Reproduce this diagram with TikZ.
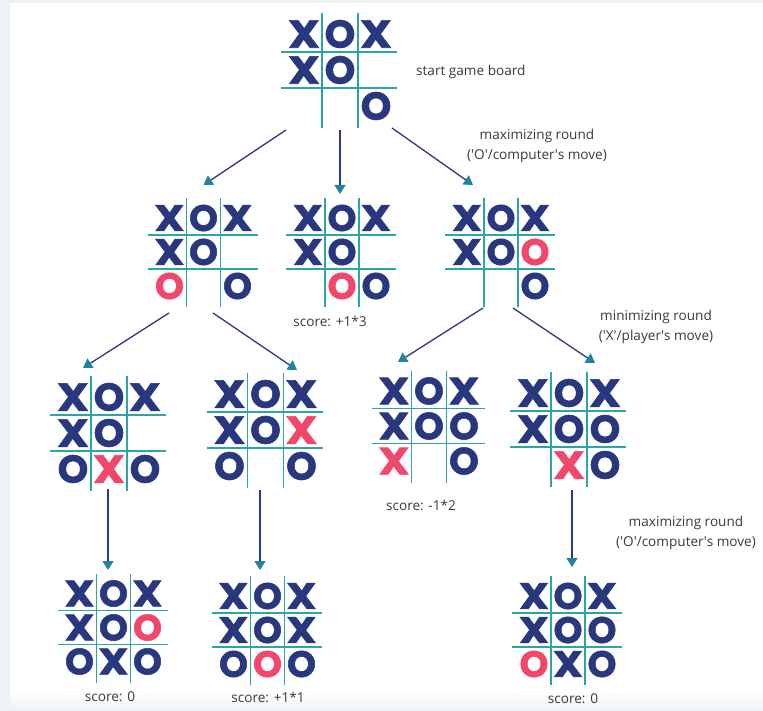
\documentclass[tikz,border=0pt]{standalone}
\usepackage{fontspec}
\usepackage{graphicx}
\setmainfont{Open Sans}
\newfontfamily\boardfont{Poppins}[BoldFeatures={FakeBold=1.4}]
\usetikzlibrary{arrows.meta,calc}
\definecolor{navy}{HTML}{29387E}
\definecolor{pinkred}{HTML}{F0476B}
\definecolor{gridteal}{HTML}{2AA6A8}
\definecolor{arrowline}{HTML}{2F3A7E}
\definecolor{arrowhead}{HTML}{1E84A0}
\definecolor{labelgray}{HTML}{3A3A3A}
\definecolor{framegray}{HTML}{EEF2F5}

\newcommand\cellmark[1]{%
  \ifx#1X\textcolor{navy}{\scalebox{1.14}[1]{X}}\fi
  \ifx#1O\textcolor{navy}{O}\fi
  \ifx#1x\textcolor{pinkred}{\scalebox{1.14}[1]{X}}\fi
  \ifx#1o\textcolor{pinkred}{O}\fi}

\tikzset{
  boardbox/.style={inner sep=0pt, outer sep=0pt, draw=none},
  gridline/.style={draw=gridteal, line width=1.6pt},
  cellmk/.style={inner sep=0pt, anchor=center, text height=27.5pt, text depth=0pt,
    font=\boardfont\bfseries\fontsize{39}{39}\selectfont},
  lbl/.style={font=\fontsize{13.6}{20}\selectfont, text=labelgray, align=center, inner sep=0pt},
  arr/.style={draw=arrowline, line width=1.3pt,
    -{Triangle[length=9pt,width=11pt,color=arrowhead]}},
}

\newcommand\board[5]{%
  \node[boardbox, minimum size=3*#4] (#1) at (#2,-#3) {};
  \draw[gridline] ($(#1.center)+(-1.5*#4-5,0.5*#4)$) -- ($(#1.center)+(1.5*#4+3,0.5*#4)$);
  \draw[gridline] ($(#1.center)+(-1.5*#4-5,-0.5*#4)$) -- ($(#1.center)+(1.5*#4+3,-0.5*#4)$);
  \draw[gridline] ($(#1.center)+(-0.5*#4,1.5*#4+3)$) -- ($(#1.center)+(-0.5*#4,-1.5*#4-4)$);
  \draw[gridline] ($(#1.center)+(0.5*#4,1.5*#4+3)$) -- ($(#1.center)+(0.5*#4,-1.5*#4-4)$);
  \foreach \c [count=\i from 0] in {#5}{%
    \pgfmathtruncatemacro\brow{div(\i,3)}%
    \pgfmathtruncatemacro\bcol{mod(\i,3)}%
    \node[cellmk, scale=#4/36] (#1-\i) at ($(#1.center)+({(\bcol-1)*#4},{-(\brow-1)*#4})$)
      {\expandafter\cellmark\expandafter{\c}};
  }%
}

\begin{document}
\begin{tikzpicture}[x=1pt,y=1pt]
\useasboundingbox (0,0) rectangle (763,-711);
\fill[framegray] (0,0) rectangle (763,-711);
\fill[white] (10,-3) rectangle (763,-690);
\shade[top color=white, bottom color=framegray] (10,-690) rectangle (763,-711);

% boards
\board{b1}{340}{70}{36}{X,O,X,X,O,-,-,-,O}
\board{b2a}{203.5}{252}{34}{X,O,X,X,O,-,o,-,O}
\board{b2b}{342}{252}{34}{X,O,X,X,O,-,-,o,O}
\board{b2c}{501}{252}{34}{X,O,X,X,O,o,-,-,O}
\board{b3a}{109}{433}{36}{X,O,X,X,O,-,O,x,O}
\board{b3b}{265.5}{430}{36}{X,O,X,X,O,x,O,-,O}
\board{b3c}{429}{426}{35}{X,O,X,X,O,O,x,-,O}
\board{b3d}{569}{429}{36}{X,O,X,X,O,O,-,x,O}
\board{b4a}{113.5}{627.5}{34}{X,O,X,X,O,o,O,X,O}
\board{b4b}{267.5}{630}{34}{X,O,X,X,O,X,O,o,O}
\board{b4c}{568}{630}{34}{X,O,X,X,O,O,o,X,O}

% labels
\node[lbl, anchor=west] (startlbl) at (416,-72) {start game board};
\node[lbl] (max1) at (537,-146) {maximizing round\\(\textquotesingle O\textquotesingle/computer\textquotesingle s move)};
\node[lbl] (min1) at (656,-327) {minimizing round\\(\textquotesingle X\textquotesingle/player\textquotesingle s move)};
\node[lbl] (max2) at (686,-533) {maximizing round\\(\textquotesingle O\textquotesingle/computer\textquotesingle s move)};
\node[lbl] (s2b) at (330,-321) {score: +1*3};
\node[lbl] (s3c) at (421,-505) {score: -1*2};
\node[lbl] (s4a) at (110,-697) {score: 0};
\node[lbl] (s4b) at (268,-697) {score: +1*1};
\node[lbl] (s4c) at (573,-699) {score: 0};

% arrows
\draw[arr] ([yshift=-6]b1.south west) -- ($(b2a.north)+(0,16)$);
\draw[arr] ([yshift=-6]b1.south) -- ++(0,-64);
\draw[arr] ($(b1.south east)+(-2,-4)$) -- ($(b2c.north)+(-28,16)$);
\draw[arr] ($(b2a.south)+(-34.5,-10)$) -- ($(b3a.north)+(-26,11)$);
\draw[arr] ($(b2a.south)+(9.5,-10)$) -- ($(b3b.north)+(31.5,6)$);
\draw[arr] ($(b2c.south)+(-18,-5)$) -- ($(b3c.north)+(-31,11.5)$);
\draw[arr] ($(b2c.south)+(12,-5)$) -- ($(b3d.north)+(26,12)$);
\draw[arr] ($(b3a.south)+(-1,-2)$) -- ++(0,-81);
\draw[arr] ($(b3b.south)+(-5.5,-6)$) -- ++(0,-80);
\draw[arr] ($(b3d.south)+(3,-7)$) -- ++(0,-77);
\end{tikzpicture}
\end{document}
